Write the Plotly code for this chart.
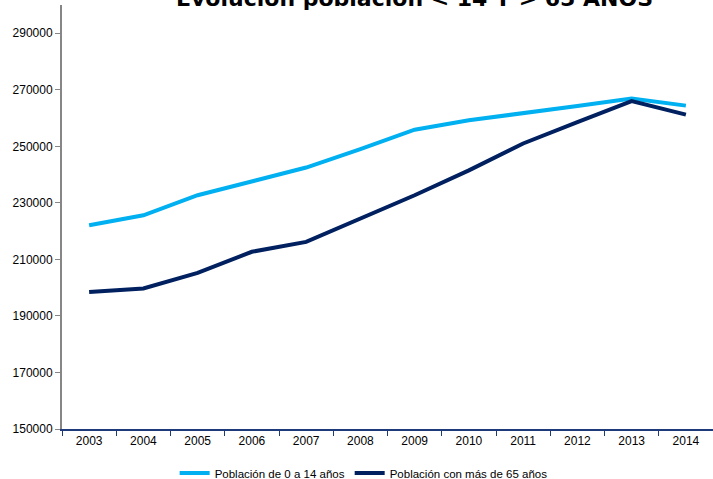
import plotly.graph_objects as go

years = ["2003", "2004", "2005", "2006", "2007", "2008", "2009", "2010", "2011", "2012", "2013", "2014"]
pob_0_14 = [222100, 225600, 232700, 237700, 242500, 249000, 255900, 259200, 261900, 264300, 266900, 264400]
pob_65_mas = [198500, 199700, 205200, 212700, 216200, 224600, 232700, 241500, 251000, 258600, 266000, 261200]

name_0_14 = "Población de 0 a 14 años"
name_65 = "Población con más de 65 años"
title_text = "Evolución población < 14 Y > 65 AÑOS"
y_ticks = [150000, 170000, 190000, 210000, 230000, 250000, 270000, 290000]

fig = go.Figure()
fig.add_trace(go.Scatter(x=years, y=pob_0_14, mode="lines", name=name_0_14,
                         line=dict(color="#00B0F0", width=4)))
fig.add_trace(go.Scatter(x=years, y=pob_65_mas, mode="lines", name=name_65,
                         line=dict(color="#002060", width=4)))

fig.update_layout(
    width=713, height=479,
    margin=dict(l=62, r=0, t=5, b=50, autoexpand=False),
    paper_bgcolor="white", plot_bgcolor="white",
    font=dict(family="Liberation Sans, Arial, sans-serif", size=12, color="#000000"),
    showlegend=True,
    legend=dict(orientation="h", xref="container", yref="container",
                x=0.51, xanchor="center", y=0.0125, yanchor="middle",
                font=dict(size=11.5), itemwidth=30, bgcolor="rgba(0,0,0,0)"),
    annotations=[dict(text="<b>" + title_text + "</b>", xref="paper", yref="paper",
                      x=0.542, y=1, xanchor="center", yanchor="bottom", yshift=-8,
                      showarrow=False,
                      font=dict(family="DejaVu Sans, sans-serif", size=22, color="#000000"))],
)
fig.update_xaxes(type="category", tickson="boundaries", ticks="outside", ticklen=5,
                 tickcolor="#1F3A7A", showline=True, linecolor="#1F3A7A", linewidth=2,
                 showgrid=False, zeroline=False, tickfont=dict(size=12),
                 range=[-0.5, 11.5], automargin=False)
fig.update_yaxes(range=[150000, 300000], tickvals=y_ticks, ticktext=[str(v) for v in y_ticks],
                 ticks="outside", ticklen=5,
                 tickcolor="#868686", showline=True, linecolor="#868686", linewidth=2,
                 showgrid=False, zeroline=False, tickfont=dict(size=12), automargin=False)

fig.write_html("out.html", config={"displayModeBar": False},
               post_script="document.body.style.margin='0';")
